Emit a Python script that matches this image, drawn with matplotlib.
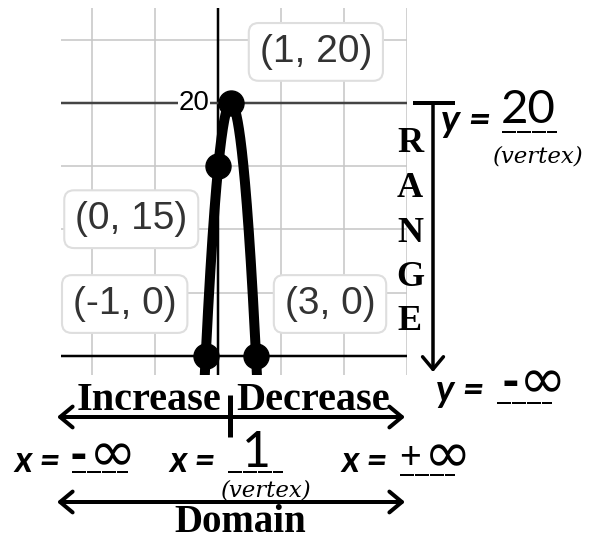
import numpy as np
import matplotlib.pyplot as plt

# labeled points on the parabola
pts_x = [-1, 0, 1, 3]
pts_y = [0, 15, 20, 0]
vertex = (1, 20)
# label box offsets from each point, in pixels
label_dx = [-81, -87, 85, 74]
label_dy = [52, -53, 51, 52]

range_letters = ['R', 'A', 'N', 'G', 'E']

PX = 0.72  # points per pixel at dpi 100

fig = plt.figure(figsize=(5.92, 5.42), dpi=100)
W, H = 592, 542

# ---- the graph (cropped desmos-like plot) ----
ax = fig.add_axes([61 / W, 1 - 375 / H, 346 / W, 367 / H])
ax.set_xlim(-12.5, 15)
ax.set_ylim(-1.5, 27.5)
for s in ax.spines.values():
    s.set_visible(False)
ax.set_xticks([-10, -5, 5, 10, 15])
ax.set_yticks([5, 10, 15, 25])
ax.tick_params(length=0, labelbottom=False, labelleft=False)
ax.grid(True, color='#c8c8c8', lw=1.6 * PX)
ax.axhline(0, color='black', lw=2.5 * PX, zorder=2)
ax.axvline(0, color='black', lw=2.5 * PX, zorder=2)
ax.axhline(20, color='#444444', lw=2.5 * PX, zorder=2)
ax.text(-0.7, 20, '20', ha='right', va='center', fontsize=20,
        family='Liberation Sans', color='black', zorder=3,
        bbox=dict(facecolor='white', edgecolor='none', pad=0.5))

# parabola through the labeled points
coef = np.polyfit(pts_x, pts_y, 2)
xs = np.linspace(-1.4, 3.4, 400)
ax.plot(xs, np.polyval(coef, xs), color='black', lw=10 * PX, zorder=4,
        solid_capstyle='butt')
ax.plot(pts_x, pts_y, 'o', color='black', ms=25 * PX, zorder=5)

for x, y, dx, dy in zip(pts_x, pts_y, label_dx, label_dy):
    ax.annotate(f'({x}, {y})', (x, y), xytext=(dx, dy), textcoords='offset pixels',
                ha='center', va='center', fontsize=28, family='Liberation Sans',
                color='#333333', zorder=6, annotation_clip=False,
                bbox=dict(boxstyle='round,pad=0.28,rounding_size=0.25',
                          facecolor='white', edgecolor='#dedede', lw=1.5))

# ---- hand-drawn annotations around the graph (pixel coords) ----
ov = fig.add_axes([0, 0, 1, 1], zorder=10)
ov.set_xlim(0, W)
ov.set_ylim(H, 0)
ov.axis('off')
ov.patch.set_alpha(0)

serif_b = dict(family='Liberation Serif', weight='bold', color='black')
sans_bi = dict(family=['Lato', 'DejaVu Sans'], weight='bold', style='italic', color='black')
sans = dict(family=['Lato', 'DejaVu Sans'], color='black')
vert = dict(family='DejaVu Serif', style='italic', color='black', fontsize=16.5)
uline = dict(color='black', lw=2 * PX, dashes=(7, 0.5))


def infinity(x_sign, x_inf, y, sign):
    # sign glyph and a wide, thin infinity glyph
    if sign == '-':
        ov.text(x_sign, y, '-', ha='center', va='center', fontsize=34,
                family=['Lato', 'DejaVu Sans'], weight='heavy', color='black')
    else:
        ov.text(x_sign, y, '+', ha='center', va='center', fontsize=27, **sans)
    ov.text(x_inf, y, '∞', ha='center', va='center', fontsize=41,
            family='DejaVu Sans', color='black')


arrow = dict(arrowstyle='<->,head_length=0.9,head_width=0.75', lw=4 * PX,
             color='black', shrinkA=0, shrinkB=0)

# range arrow
ov.plot([413, 455], [103, 103], color='black', lw=4 * PX, solid_capstyle='butt')
ov.annotate('', xy=(433, 372), xytext=(433, 103),
            arrowprops=dict(arrowstyle='->,head_length=0.9,head_width=0.75',
                            lw=3.5 * PX, color='black', shrinkA=0, shrinkB=0))
for i, ch in enumerate(range_letters):
    ov.text(410, 144 + 44.5 * i, ch, ha='center', va='center', fontsize=26, **serif_b)

ov.text(441, 120, 'y =', ha='left', va='center', fontsize=28, **sans_bi)
ov.text(528, 123, str(vertex[1]), ha='center', va='baseline', fontsize=34, **sans)
ov.plot([502, 557], [132, 132], **uline)
ov.text(538, 156, '(vertex)', ha='center', va='center', **vert)

ov.text(436, 391, 'y =', ha='left', va='center', fontsize=27, **sans_bi)
infinity(510, 543, 383, '-')
ov.plot([497, 552], [403, 403], **uline)

# increase / decrease arrow
ov.annotate('', xy=(57, 417), xytext=(405, 417), arrowprops=arrow)
ov.plot([230, 230], [395, 437], color='black', lw=5 * PX, solid_capstyle='butt')
ov.text(149, 410, 'Increase', ha='center', va='baseline', fontsize=29, **serif_b)
ov.text(313, 410, 'Decrease', ha='center', va='baseline', fontsize=29, **serif_b)

# x values
ov.text(14, 461, 'x =', ha='left', va='center', fontsize=26, **sans_bi)
infinity(78, 113, 456, '-')
ov.plot([72, 128], [472, 472], **uline)

ov.text(169, 461, 'x =', ha='left', va='center', fontsize=26, **sans_bi)
ov.text(256, 467, str(vertex[0]), ha='center', va='baseline', fontsize=36, **sans)
ov.plot([228, 283], [472, 472], **uline)
ov.text(266, 491, '(vertex)', ha='center', va='center', **vert)

ov.text(341, 461, 'x =', ha='left', va='center', fontsize=26, **sans_bi)
infinity(410, 448, 457, '+')
ov.plot([400, 455], [475, 475], **uline)

# domain arrow
ov.annotate('', xy=(57, 502), xytext=(405, 502), arrowprops=arrow)
ov.text(240, 532, 'Domain', ha='center', va='baseline', fontsize=28, **serif_b)

fig.savefig('out.png', dpi=100)
